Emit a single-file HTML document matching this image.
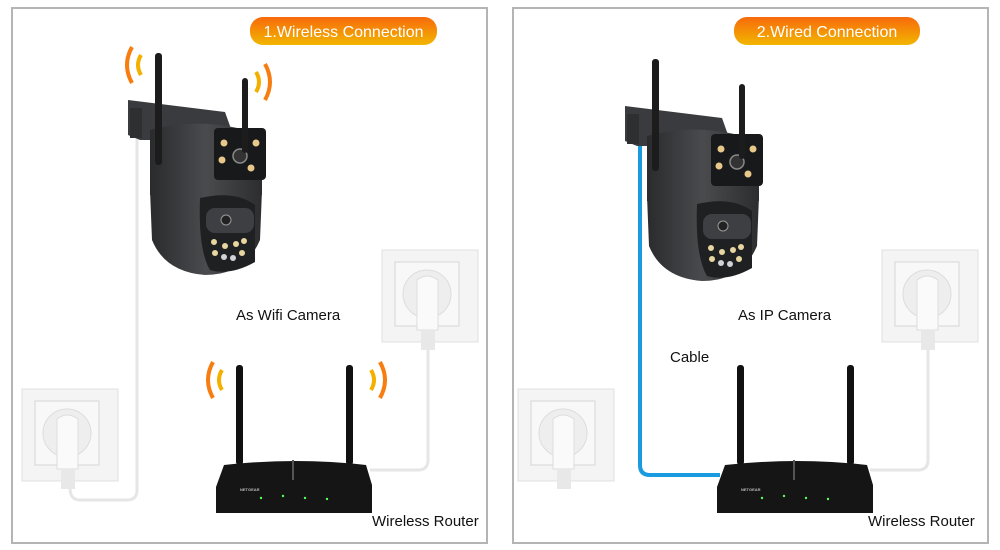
<!DOCTYPE html>
<html><head><meta charset="utf-8"><style>
html,body{margin:0;padding:0;background:#fff;}
svg{display:block;}
text{font-family:"Liberation Sans",sans-serif;}
</style></head><body>
<svg width="1000" height="550" viewBox="0 0 1000 550" xmlns="http://www.w3.org/2000/svg">
<defs>
<linearGradient id="pill" x1="0" y1="0" x2="0" y2="1"><stop offset="0" stop-color="#f76a0c"/><stop offset="1" stop-color="#f2b600"/></linearGradient>
<linearGradient id="body" x1="0" y1="0" x2="1" y2="0"><stop offset="0" stop-color="#2a2b2d"/><stop offset=".5" stop-color="#4a4b4e"/><stop offset="1" stop-color="#2c2d2f"/></linearGradient>
<g id="cam">
 <path d="M128 100 L225 112 L235 140 L140 140 L128 135 Z" fill="#3a3b3e"/>
 <rect x="130" y="108" width="12" height="30" fill="#2e2f31"/>
 <path d="M150 130 Q205 115 262 135 L262 195 L150 195 Z" fill="url(#body)"/>
 <path d="M150 190 L262 190 L260 240 Q245 275 205 275 Q165 272 152 240 Z" fill="url(#body)"/>
 <path d="M200 198 Q235 190 255 205 L255 262 Q230 276 210 270 Q198 250 200 198Z" fill="#1f2022"/>
 <rect x="214" y="128" width="52" height="52" rx="4" fill="#18191a"/>
 <circle cx="240" cy="156" r="7" fill="#333" stroke="#888" stroke-width="1.5"/>
 <circle cx="224" cy="143" r="3.5" fill="#e8c88a"/><circle cx="256" cy="143" r="3.5" fill="#e8c88a"/>
 <circle cx="222" cy="160" r="3.5" fill="#e8c88a"/><circle cx="251" cy="168" r="3.5" fill="#e8c88a"/>
 <rect x="206" y="208" width="48" height="25" rx="9" fill="#3e3f42"/>
 <circle cx="226" cy="220" r="5" fill="#222" stroke="#999"/>
 <g fill="#e8d6a0"><circle cx="214" cy="242" r="3"/><circle cx="225" cy="246" r="3"/><circle cx="236" cy="244" r="3"/><circle cx="244" cy="241" r="3"/><circle cx="215" cy="253" r="3"/><circle cx="242" cy="253" r="3"/></g>
 <g fill="#cfd3d8"><circle cx="224" cy="257" r="3"/><circle cx="233" cy="258" r="3"/></g>
 <rect x="155" y="53" width="7" height="112" rx="3" fill="#1c1c1d"/>
 <rect x="242" y="78" width="6" height="75" rx="3" fill="#1c1c1d"/>
</g>
<g id="outlet">
 <rect x="0" y="0" width="96" height="92" fill="#f4f4f4" stroke="#e0e0e0"/>
 <rect x="13" y="12" width="64" height="64" fill="#f8f8f8" stroke="#d6d6d6"/>
 <circle cx="45" cy="44" r="24" fill="#eeeeee" stroke="#ddd"/>
 <path d="M35 30 Q45 22 56 30 L56 80 L35 80 Z" fill="#fafafa" stroke="#ddd"/>
 <rect x="39" y="80" width="14" height="20" fill="#e8e8e8"/>
</g>
<g id="router">
 <rect x="20" y="0" width="7" height="100" rx="3" fill="#111"/>
 <rect x="130" y="0" width="7" height="100" rx="3" fill="#111"/>
 <path d="M8 100 Q80 92 150 100 L156 120 L156 148 L0 148 L0 122 Z" fill="#151515"/>
 <rect x="76" y="95" width="2" height="20" fill="#555"/>
 <text x="24" y="126" font-size="4" fill="#bbb" font-weight="bold">NETGEAR</text>
 <g fill="#5f5"><circle cx="45" cy="133" r="1.2"/><circle cx="67" cy="131" r="1.2"/><circle cx="89" cy="133" r="1.2"/><circle cx="111" cy="134" r="1.2"/></g>
</g>
<g id="wl"><path d="M0 -18 Q-10 0 0 18" fill="none" stroke="#f77d10" stroke-width="4"/><path d="M9 -10 Q3 0 9 10" fill="none" stroke="#f3b000" stroke-width="4"/></g>
<g id="wr"><path d="M0 -18 Q10 0 0 18" fill="none" stroke="#f77d10" stroke-width="4"/><path d="M-9 -10 Q-3 0 -9 10" fill="none" stroke="#f3b000" stroke-width="4"/></g>
</defs>

<rect x="12" y="8" width="475" height="535" fill="#fff" stroke="#b4b4b4" stroke-width="2"/>
<rect x="513" y="8" width="475" height="535" fill="#fff" stroke="#b4b4b4" stroke-width="2"/>

<!-- LEFT -->
<path d="M137 110 L137 490 Q137 500 127 500 L80 500 Q70 500 70 488" fill="none" stroke="#e6e6e6" stroke-width="3"/>
<path d="M428 350 L428 460 Q428 470 418 470 L370 470" fill="none" stroke="#e6e6e6" stroke-width="3"/>
<use href="#cam"/>
<use href="#wl" x="132" y="65"/>
<use href="#wr" x="265" y="82"/>
<use href="#outlet" x="382" y="250"/>
<use href="#outlet" x="22" y="389"/>
<use href="#router" x="216" y="365"/>
<use href="#wl" x="213" y="380"/>
<use href="#wr" x="380" y="380"/>
<rect x="250" y="17" width="187" height="28" rx="13" fill="url(#pill)"/>
<text x="343.5" y="37" font-size="16" fill="#fff" text-anchor="middle">1.Wireless Connection</text>
<text x="236" y="320" font-size="15" fill="#111">As Wifi Camera</text>
<text x="372" y="526" font-size="15" fill="#111">Wireless Router</text>

<!-- RIGHT -->
<path d="M640 130 L640 465 Q640 475 650 475 L720 475" fill="none" stroke="#1a9be0" stroke-width="4"/>
<path d="M928 350 L928 460 Q928 470 918 470 L870 470" fill="none" stroke="#e6e6e6" stroke-width="3"/>
<use href="#cam" x="497" y="6"/>
<use href="#outlet" x="882" y="250"/>
<use href="#outlet" x="518" y="389"/>
<use href="#router" x="717" y="365"/>
<rect x="734" y="17" width="186" height="28" rx="13" fill="url(#pill)"/>
<text x="827" y="37" font-size="16" fill="#fff" text-anchor="middle">2.Wired Connection</text>
<text x="738" y="320" font-size="15" fill="#111">As IP Camera</text>
<text x="670" y="362" font-size="15" fill="#111">Cable</text>
<text x="868" y="526" font-size="15" fill="#111">Wireless Router</text>
</svg>
</body></html>
